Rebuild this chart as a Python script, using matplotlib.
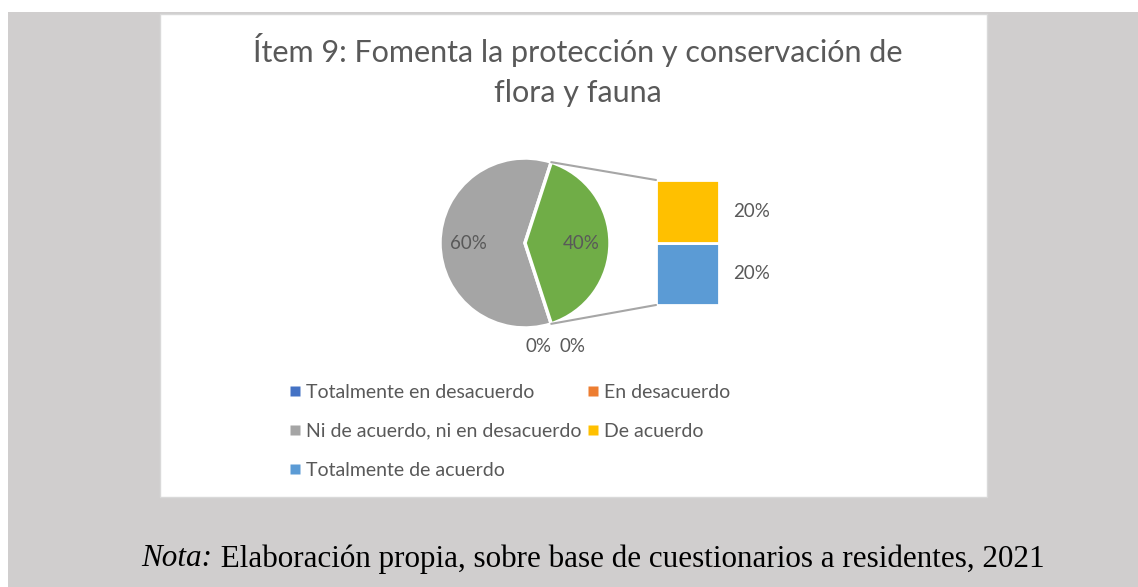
import numpy as np
import matplotlib.pyplot as plt
from matplotlib.patches import Rectangle, ConnectionPatch
from matplotlib.lines import Line2D

plt.rcParams['font.family'] = ['Lato', 'DejaVu Sans']

# data
categories = ['Totalmente en desacuerdo', 'En desacuerdo',
              'Ni de acuerdo, ni en desacuerdo', 'De acuerdo',
              'Totalmente de acuerdo']
values = [0, 0, 60, 20, 20]
colors = ['#4472C4', '#ED7D31', '#A5A5A5', '#FFC000', '#5B9BD5']

main_vals = values[:3] + [values[3] + values[4]]
main_cols = colors[:3] + ['#70AD47']
sub_vals = [values[4], values[3]]       # stacked bottom -> top
sub_cols = [colors[4], colors[3]]

W, H = 1138, 587
TXT = '#595959'

fig = plt.figure(figsize=(W / 100, H / 100), dpi=100)
fig.patch.set_facecolor('white')

def fx(px):
    return px / W

def fy(py):
    return 1 - py / H

# backgrounds
fig.add_artist(Rectangle((fx(8), 0), 1 - fx(8), fy(12), transform=fig.transFigure,
                         facecolor='#D0CECE', edgecolor='none', zorder=-2))
fig.add_artist(Rectangle((fx(160), fy(497)), fx(987 - 160), (497 - 14) / H,
                         transform=fig.transFigure, facecolor='white',
                         edgecolor='#D9D9D9', linewidth=1, zorder=-1))

fig.text(fx(578), fy(70), 'Ítem 9: Fomenta la protección y conservación de\nflora y fauna',
         ha='center', va='center', fontsize=22, color=TXT, linespacing=1.5)

# main pie
R = 85
cx, cy = 525, 243
half = 100
axp = fig.add_axes([fx(cx - half), fy(cy + half), 2 * half / W, 2 * half / H])

start = 360 - 360 * main_vals[-1] / 2 / sum(main_vals)
wedges, _ = axp.pie(main_vals, colors=main_cols, startangle=start, counterclock=False,
                    radius=1, wedgeprops=dict(edgecolor='white', linewidth=2.5))
axp.set_xlim(-half / R, half / R)
axp.set_ylim(-half / R, half / R)
axp.set_aspect('equal')
axp.axis('off')

for w, v in zip(wedges, main_vals):
    mid = np.deg2rad((w.theta1 + w.theta2) / 2)
    if v > 0:
        axp.text(0.66 * np.cos(mid), 0.66 * np.sin(mid), '%d%%' % v,
                 ha='center', va='center', fontsize=13.5, color=TXT)

zero_idx = [i for i, v in enumerate(main_vals) if v == 0]
a0 = np.deg2rad(wedges[zero_idx[0]].theta1)
for k, i in enumerate(zero_idx):
    axp.text(1.28 * np.cos(a0) - 0.04 + (k - 0.5) * 0.4, 1.28 * np.sin(a0),
             '%d%%' % main_vals[i], ha='center', va='center', fontsize=13.5, color=TXT)

# secondary stacked bar
bx0, bx1, by0, by1 = 656, 719, 180, 305
axb = fig.add_axes([fx(bx0), fy(by1), (bx1 - bx0) / W, (by1 - by0) / H])
bottom = 0
for v, c in zip(sub_vals, sub_cols):
    axb.bar(0, v, width=1, bottom=bottom, color=c, edgecolor='white', linewidth=2)
    axb.text(1.02, bottom + v / 2, '%d%%' % v, ha='center', va='center',
             fontsize=13.5, color=TXT)
    bottom += v
axb.set_xlim(-0.5, 0.5)
axb.set_ylim(0, bottom)
axb.axis('off')

# connector lines
g = wedges[-1]
t1, t2 = np.deg2rad(g.theta1), np.deg2rad(g.theta2)
for ang, yb in [(t2, bottom), (t1, 0)]:
    con = ConnectionPatch(xyA=(np.cos(ang), np.sin(ang)), coordsA=axp.transData,
                          xyB=(-0.5, yb), coordsB=axb.transData,
                          color='#A6A6A6', linewidth=1.5, zorder=1)
    fig.add_artist(con)

# legend (row-major like the original)
handles = [Line2D([], [], marker='s', linestyle='none', markersize=6.5,
                  markerfacecolor=c, markeredgecolor='none') for c in colors]
order = [0, 2, 4, 1, 3]
fig.legend([handles[i] for i in order], [categories[i] for i in order],
           ncol=2, loc='upper left', bbox_to_anchor=(fx(289), fy(384)),
           frameon=False, fontsize=14, labelcolor=TXT, handlelength=0.6,
           handletextpad=0.3, columnspacing=0.25, labelspacing=1.12,
           borderaxespad=0, borderpad=0)

# note below the chart: italic "Nota:" + regular text, centred together
fs_note = 22.4
t_it = fig.text(0, fy(559), 'Nota:', ha='left', va='center', fontsize=fs_note,
                family='Liberation Serif', style='italic', color='black')
t_rm = fig.text(0, fy(559), ' Elaboración propia, sobre base de cuestionarios a residentes, 2021',
                ha='left', va='center', fontsize=fs_note, family='Liberation Serif',
                color='black')
r = fig.canvas.get_renderer()
w_it = t_it.get_window_extent(r).width
w_rm = t_rm.get_window_extent(r).width
x0 = 593 - (w_it + w_rm) / 2
t_it.set_x(fx(x0))
t_rm.set_x(fx(x0 + w_it))

fig.savefig('out.png', dpi=100)
